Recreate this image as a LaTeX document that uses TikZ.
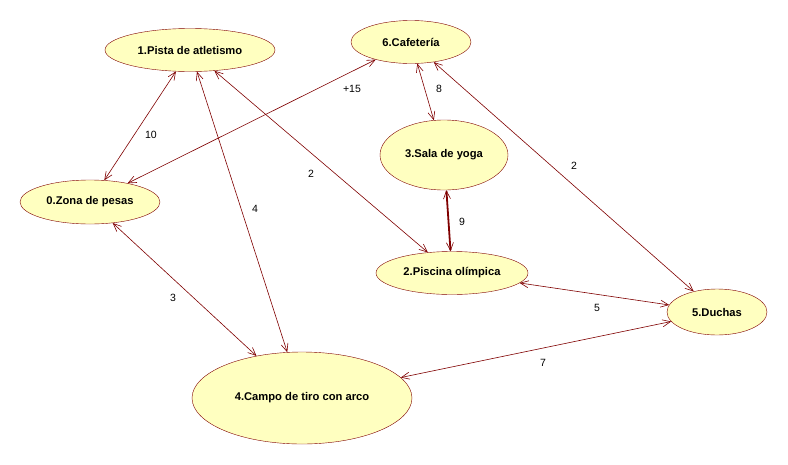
\documentclass[tikz,border=0pt]{standalone}
\usepackage{fontspec}
\setmainfont{Liberation Sans}
\usetikzlibrary{shapes.geometric,arrows.meta}
\definecolor{lugarfill}{RGB}{255,255,192}
\definecolor{lugarborde}{RGB}{128,0,0}
\begin{document}
\begin{tikzpicture}[x=1pt,y=-1pt,
		lugar/.style={ellipse,draw=lugarborde,fill=lugarfill,inner sep=0pt,font=\fontsize{11.2}{13}\selectfont\bfseries},
		camino/.style={draw=lugarborde,line width=0.6pt,{Straight Barb[length=8pt,width=7pt,line width=0.6pt]}-{Straight Barb[length=8pt,width=7pt,line width=0.6pt]}},
		peso/.style={font=\fontsize{10.5}{12}\selectfont}]
	\useasboundingbox[fill=white] (0,0) rectangle (788,464);
	\node[lugar,minimum width=170pt,minimum height=43pt] (p1) at (190,50) {1.Pista de atletismo};
	\node[lugar,minimum width=120pt,minimum height=43pt] (p6) at (411,42) {6.Cafetería};
	\node[lugar,minimum width=128pt,minimum height=70pt] (p3) at (444,155) {3.Sala de yoga};
	\node[lugar,minimum width=140pt,minimum height=44pt] (p0) at (90,202) {0.Zona de pesas};
	\node[lugar,minimum width=152pt,minimum height=43pt] (p2) at (452,273) {2.Piscina olímpica};
	\node[lugar,minimum width=100pt,minimum height=46pt] (p5) at (717,312) {5.Duchas};
	\node[lugar,minimum width=220pt,minimum height=92pt] (p4) at (302,398) {4.Campo de tiro con arco};
	\draw[camino] (p1) -- (p0);
	\draw[camino] (p0) -- (p6);
	\draw[camino] (p1) -- (p4);
	\draw[camino] (p1) -- (p2);
	\draw[camino] (p6) -- (p3);
	\draw[camino] (p6) -- (p5);
	\draw[camino,line width=1.8pt] (p3) -- (p2);
	\draw[camino] (p2) -- (p5);
	\draw[camino] (p4) -- (p5);
	\draw[camino] (p0) -- (p4);
	\node[peso] (w10) at (151,135) {10};
	\node[peso] (w15) at (352,89) {+15};
	\node[peso] (w2a) at (311,174) {2};
	\node[peso] (w4) at (255,209) {4};
	\node[peso] (w8) at (439,89) {8};
	\node[peso] (w2b) at (574,166) {2};
	\node[peso] (w9) at (462,222) {9};
	\node[peso] (w5) at (597,308) {5};
	\node[peso] (w7) at (543,363) {7};
	\node[peso] (w3) at (173,298) {3};
\end{tikzpicture}
\end{document}
